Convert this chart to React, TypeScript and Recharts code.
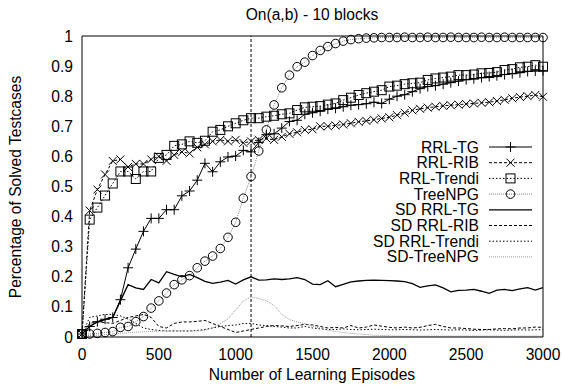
import React from 'react';
import { LineChart, Line, XAxis, YAxis, ReferenceLine } from 'recharts';

const episodes = [0, 50, 100, 150, 200, 250, 300, 350, 400, 450, 500, 550, 600, 650, 700, 750, 800, 850, 900, 950, 1000, 1050, 1100, 1150, 1200, 1250, 1300, 1350, 1400, 1450, 1500, 1550, 1600, 1650, 1700, 1750, 1800, 1850, 1900, 1950, 2000, 2050, 2100, 2150, 2200, 2250, 2300, 2350, 2400, 2450, 2500, 2550, 2600, 2650, 2700, 2750, 2800, 2850, 2900, 2950, 3000];

const rrlTG = [0.01, 0.035, 0.051, 0.059, 0.065, 0.124, 0.23, 0.292, 0.351, 0.394, 0.394, 0.423, 0.423, 0.469, 0.485, 0.521, 0.577, 0.549, 0.582, 0.598, 0.601, 0.62, 0.615, 0.646, 0.672, 0.675, 0.694, 0.716, 0.72, 0.74, 0.745, 0.75, 0.757, 0.76, 0.765, 0.77, 0.772, 0.775, 0.78, 0.776, 0.79, 0.8, 0.805, 0.815, 0.825, 0.832, 0.835, 0.84, 0.845, 0.85, 0.855, 0.858, 0.862, 0.865, 0.868, 0.872, 0.875, 0.878, 0.882, 0.884, 0.885];

const rrlRIB = [0.01, 0.42, 0.49, 0.54, 0.585, 0.59, 0.565, 0.575, 0.575, 0.59, 0.6, 0.585, 0.605, 0.615, 0.61, 0.63, 0.64, 0.65, 0.655, 0.65, 0.655, 0.645, 0.65, 0.655, 0.66, 0.655, 0.665, 0.675, 0.68, 0.688, 0.69, 0.7, 0.7, 0.703, 0.706, 0.71, 0.715, 0.718, 0.722, 0.726, 0.73, 0.737, 0.745, 0.753, 0.758, 0.762, 0.765, 0.768, 0.77, 0.772, 0.774, 0.776, 0.778, 0.78, 0.784, 0.788, 0.793, 0.797, 0.8, 0.804, 0.798];

const rrlTrendi = [0.01, 0.39, 0.43, 0.47, 0.51, 0.55, 0.55, 0.525, 0.55, 0.55, 0.595, 0.605, 0.635, 0.64, 0.65, 0.645, 0.652, 0.682, 0.688, 0.7, 0.71, 0.72, 0.727, 0.727, 0.732, 0.735, 0.74, 0.743, 0.754, 0.763, 0.765, 0.767, 0.772, 0.776, 0.787, 0.795, 0.804, 0.81, 0.815, 0.82, 0.832, 0.835, 0.84, 0.843, 0.845, 0.854, 0.859, 0.862, 0.865, 0.87, 0.87, 0.872, 0.876, 0.877, 0.88, 0.887, 0.89, 0.896, 0.898, 0.903, 0.898];

const treeNPG = [0.01, 0.01, 0.012, 0.015, 0.018, 0.032, 0.035, 0.051, 0.068, 0.096, 0.12, 0.146, 0.174, 0.19, 0.204, 0.23, 0.252, 0.269, 0.294, 0.331, 0.381, 0.461, 0.533, 0.618, 0.688, 0.771, 0.828, 0.87, 0.898, 0.913, 0.935, 0.952, 0.965, 0.975, 0.983, 0.988, 0.991, 0.993, 0.994, 0.995, 0.995, 0.995, 0.996, 0.995, 0.995, 0.996, 0.995, 0.995, 0.996, 0.995, 0.995, 0.995, 0.996, 0.995, 0.995, 0.996, 0.995, 0.995, 0.995, 0.995, 0.995];

const sdRrlTG = [0.01, 0.035, 0.05, 0.058, 0.065, 0.12, 0.174, 0.163, 0.158, 0.191, 0.18, 0.217, 0.208, 0.2, 0.208, 0.197, 0.185, 0.178, 0.182, 0.188, 0.176, 0.19, 0.2, 0.189, 0.19, 0.193, 0.191, 0.193, 0.197, 0.191, 0.176, 0.174, 0.187, 0.167, 0.175, 0.183, 0.186, 0.188, 0.189, 0.188, 0.187, 0.186, 0.184, 0.177, 0.165, 0.17, 0.173, 0.163, 0.15, 0.155, 0.156, 0.158, 0.152, 0.145, 0.156, 0.158, 0.154, 0.16, 0.164, 0.156, 0.164];

const sdRrlRIB = [0.01, 0.045, 0.05, 0.048, 0.045, 0.055, 0.065, 0.07, 0.075, 0.065, 0.035, 0.03, 0.045, 0.05, 0.05, 0.052, 0.055, 0.045, 0.035, 0.025, 0.015, 0.02, 0.025, 0.03, 0.035, 0.038, 0.037, 0.035, 0.038, 0.042, 0.04, 0.035, 0.03, 0.032, 0.03, 0.038, 0.03, 0.033, 0.04, 0.036, 0.032, 0.03, 0.033, 0.03, 0.032, 0.038, 0.042, 0.035, 0.03, 0.03, 0.028, 0.026, 0.025, 0.025, 0.027, 0.028, 0.027, 0.03, 0.03, 0.033, 0.032];

const sdRrlTrendi = [0.01, 0.065, 0.07, 0.075, 0.075, 0.07, 0.06, 0.045, 0.03, 0.025, 0.022, 0.02, 0.02, 0.02, 0.02, 0.022, 0.025, 0.03, 0.035, 0.038, 0.04, 0.045, 0.045, 0.04, 0.038, 0.035, 0.033, 0.03, 0.03, 0.035, 0.03, 0.027, 0.025, 0.025, 0.027, 0.025, 0.024, 0.025, 0.026, 0.025, 0.024, 0.024, 0.025, 0.024, 0.023, 0.024, 0.025, 0.024, 0.023, 0.024, 0.023, 0.022, 0.023, 0.024, 0.023, 0.022, 0.023, 0.024, 0.023, 0.024, 0.024];

const sdTreeNPG = [0.005, 0.005, 0.006, 0.008, 0.01, 0.012, 0.014, 0.016, 0.017, 0.018, 0.02, 0.02, 0.021, 0.02, 0.02, 0.02, 0.022, 0.03, 0.045, 0.06, 0.09, 0.12, 0.133, 0.128, 0.12, 0.105, 0.075, 0.058, 0.05, 0.045, 0.035, 0.03, 0.022, 0.018, 0.015, 0.012, 0.01, 0.008, 0.006, 0.005, 0.004, 0.003, 0.003, 0.003, 0.003, 0.003, 0.003, 0.003, 0.003, 0.003, 0.003, 0.003, 0.003, 0.003, 0.003, 0.003, 0.003, 0.003, 0.003, 0.003, 0.003];

const xTicks = [0, 500, 1000, 1500, 2000, 2500, 3000];
const yTicks = [0, 0.1, 0.2, 0.3, 0.4, 0.5, 0.6, 0.7, 0.8, 0.9, 1];
const markerEpisode = 1100;

const title = 'On(a,b) - 10 blocks';
const xLabel = 'Number of Learning Episodes';
const yLabel = 'Percentage of Solved Testcases';

type Series = { key: string; name: string; values: number[]; stroke: string; dash?: string; width: number; marker?: string };

const series: Series[] = [
  { key: 'rrlTG', name: 'RRL-TG', values: rrlTG, stroke: '#000', width: 1, marker: 'plus' },
  { key: 'rrlRIB', name: 'RRL-RIB', values: rrlRIB, stroke: '#000', dash: '3 2', width: 1, marker: 'cross' },
  { key: 'rrlTrendi', name: 'RRL-Trendi', values: rrlTrendi, stroke: '#000', dash: '1.5 2', width: 1, marker: 'square' },
  { key: 'treeNPG', name: 'TreeNPG', values: treeNPG, stroke: '#888', dash: '1 1', width: 1, marker: 'circle' },
  { key: 'sdRrlTG', name: 'SD RRL-TG', values: sdRrlTG, stroke: '#000', width: 1.3 },
  { key: 'sdRrlRIB', name: 'SD RRL-RIB', values: sdRrlRIB, stroke: '#000', dash: '3 2', width: 1 },
  { key: 'sdRrlTrendi', name: 'SD RRL-Trendi', values: sdRrlTrendi, stroke: '#000', dash: '1.5 2', width: 1 },
  { key: 'sdTreeNPG', name: 'SD-TreeNPG', values: sdTreeNPG, stroke: '#999', dash: '1 1', width: 1 },
];

const data = episodes.map((ep, i) => {
  const row: Record<string, number> = { ep };
  series.forEach((s) => {
    row[s.key] = s.values[i];
  });
  return row;
});

const FONT = '"Liberation Sans", Arial, Helvetica, sans-serif';
const FS = 15.6;

function Marker({ type, cx, cy }: { type?: string; cx: number; cy: number }) {
  if (cx == null || cy == null || !type) return null;
  const common = { stroke: '#000', strokeWidth: 1, fill: 'none' };
  if (type === 'plus') return <path d={`M${cx - 5},${cy}H${cx + 5}M${cx},${cy - 5}V${cy + 5}`} {...common} />;
  if (type === 'cross') return <path d={`M${cx - 4},${cy - 4}L${cx + 4},${cy + 4}M${cx - 4},${cy + 4}L${cx + 4},${cy - 4}`} {...common} />;
  if (type === 'square') return <rect x={cx - 4.5} y={cy - 4.5} width={9} height={9} {...common} />;
  if (type === 'circle') return <circle cx={cx} cy={cy} r={4.3} {...common} />;
  return null;
}

const W = 562;
const H = 385;
const legendTextX = 479;
const legendLineX1 = 489;
const legendLineX2 = 532;
const legendY0 = 147;
const legendStep = 15.7;

export default function App() {
  return (
    <div style={{ position: 'absolute', left: 0, top: 0, width: W, height: H, background: '#fff' }}>
      <LineChart width={W} height={H} data={data} margin={{ top: 36, right: 19, bottom: 18, left: 52 }}>
        <XAxis
          dataKey="ep"
          type="number"
          domain={[0, 3000]}
          ticks={xTicks}
          interval={0}
          tickLine={false}
          tickSize={0}
          tickMargin={12}
          height={30}
          axisLine={{ stroke: '#000', strokeWidth: 1 }}
          tick={{ fill: '#000', fontSize: FS, fontFamily: FONT }}
        />
        <XAxis
          xAxisId="bm"
          orientation="bottom"
          mirror
          type="number"
          domain={[0, 3000]}
          ticks={xTicks}
          interval={0}
          tick={false}
          tickSize={5}
          axisLine={false}
          tickLine={{ stroke: '#000' }}
        />
        <XAxis
          xAxisId="top"
          orientation="top"
          mirror
          type="number"
          domain={[0, 3000]}
          ticks={xTicks}
          interval={0}
          tick={false}
          tickSize={5}
          axisLine={{ stroke: '#000', strokeWidth: 1 }}
          tickLine={{ stroke: '#000' }}
        />
        <YAxis
          type="number"
          domain={[0, 1]}
          ticks={yTicks}
          interval={0}
          width={30}
          tickLine={false}
          tickSize={0}
          tickMargin={9}
          axisLine={{ stroke: '#000', strokeWidth: 1 }}
          tick={{ fill: '#000', fontSize: FS, fontFamily: FONT }}
        />
        <YAxis
          yAxisId="lm"
          orientation="left"
          mirror
          type="number"
          domain={[0, 1]}
          ticks={yTicks}
          interval={0}
          tick={false}
          tickSize={5}
          axisLine={false}
          tickLine={{ stroke: '#000' }}
        />
        <YAxis
          yAxisId="right"
          orientation="right"
          mirror
          type="number"
          domain={[0, 1]}
          ticks={yTicks}
          interval={0}
          tick={false}
          tickSize={5}
          axisLine={{ stroke: '#000', strokeWidth: 1 }}
          tickLine={{ stroke: '#000' }}
        />
        <ReferenceLine x={markerEpisode} stroke="#000" strokeDasharray="3 2" strokeWidth={1} />
        {series.map((s) => (
          <Line
            key={s.key}
            dataKey={s.key}
            type="linear"
            stroke={s.stroke}
            strokeWidth={s.width}
            strokeDasharray={s.dash}
            isAnimationActive={false}
            activeDot={false}
            dot={
              s.marker
                ? (p: any) => <Marker key={`${s.key}-${p.index}`} type={s.marker} cx={p.cx} cy={p.cy} />
                : false
            }
          />
        ))}
      </LineChart>
      <svg
        width={W}
        height={H}
        style={{ position: 'absolute', left: 0, top: 0, pointerEvents: 'none' }}
        fontFamily={FONT}
        fontSize={FS}
      >
        <text x={312} y={14} textAnchor="middle" dominantBaseline="central" fill="#000">{title}</text>
        <text x={312} y={374} textAnchor="middle" dominantBaseline="central" fill="#000">{xLabel}</text>
        <text
          x={15}
          y={187}
          textAnchor="middle"
          dominantBaseline="central"
          fill="#000"
          transform="rotate(-90 15 187)"
        >
          {yLabel}
        </text>
        {series.map((s, i) => {
          const y = legendY0 + i * legendStep;
          return (
            <g key={s.key}>
              <text x={legendTextX} y={y} textAnchor="end" dominantBaseline="central" fill="#000">{s.name}</text>
              <line x1={legendLineX1} x2={legendLineX2} y1={y} y2={y} stroke={s.stroke} strokeWidth={s.width} strokeDasharray={s.dash} />
              <Marker type={s.marker} cx={(legendLineX1 + legendLineX2) / 2} cy={y} />
            </g>
          );
        })}
      </svg>
    </div>
  );
}
